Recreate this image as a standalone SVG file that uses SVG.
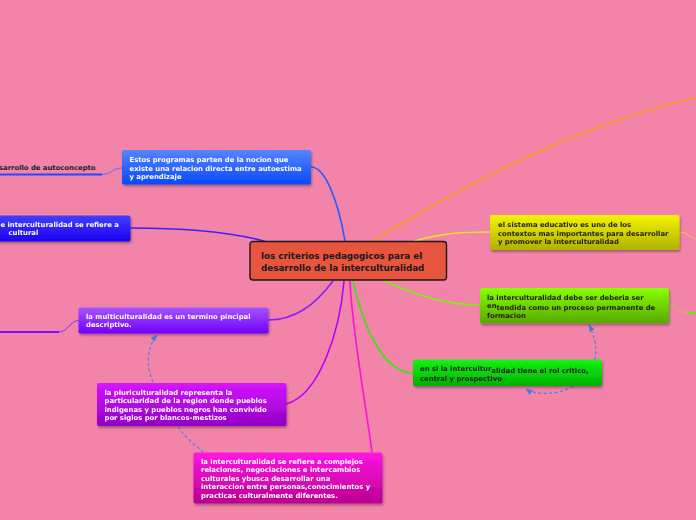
<svg xmlns="http://www.w3.org/2000/svg" width="696" height="520" viewBox="0 0 696 520">
<defs>
<linearGradient id="gBlue" x1="0" y1="0" x2="0" y2="1"><stop offset="0" stop-color="#5585ff"/><stop offset="1" stop-color="#0a48ff"/></linearGradient>
<linearGradient id="gIndigo" x1="0" y1="0" x2="0" y2="1"><stop offset="0" stop-color="#4040ff"/><stop offset="1" stop-color="#1c00f0"/></linearGradient>
<linearGradient id="gPurple" x1="0" y1="0" x2="0" y2="1"><stop offset="0" stop-color="#a455ff"/><stop offset="1" stop-color="#7000ff"/></linearGradient>
<linearGradient id="gViolet" x1="0" y1="0" x2="0" y2="1"><stop offset="0" stop-color="#d414ff"/><stop offset="1" stop-color="#9200c4"/></linearGradient>
<linearGradient id="gMagenta" x1="0" y1="0" x2="0" y2="1"><stop offset="0" stop-color="#ff14e4"/><stop offset="1" stop-color="#ba0090"/></linearGradient>
<linearGradient id="gYellow" x1="0" y1="0" x2="0" y2="1"><stop offset="0" stop-color="#f4f400"/><stop offset="1" stop-color="#b0b000"/></linearGradient>
<linearGradient id="gLime" x1="0" y1="0" x2="0" y2="1"><stop offset="0" stop-color="#88ff00"/><stop offset="1" stop-color="#5aa800"/></linearGradient>
<linearGradient id="gGreen" x1="0" y1="0" x2="0" y2="1"><stop offset="0" stop-color="#14f414"/><stop offset="1" stop-color="#00b000"/></linearGradient>
<filter id="sh" x="-10%" y="-20%" width="120%" height="150%"><feDropShadow dx="1" dy="2" stdDeviation="1.2" flood-color="#000" flood-opacity="0.3"/></filter>
<marker id="ar" viewBox="0 0 10 10" refX="9" refY="5" markerWidth="6" markerHeight="6" orient="auto-start-reverse"><path d="M0,1 L10,5 L0,9 z" fill="#4a78d8"/></marker>
</defs>
<style>
.bg{fill:#f283a9}
.node{filter:url(#sh)}
.t{font-family:"DejaVu Sans","Liberation Sans",sans-serif;font-weight:bold;font-size:6.85px}
.w{fill:#ffffff}
.d{fill:#1e1e1e}
.c{font-family:"DejaVu Sans","Liberation Sans",sans-serif;font-weight:bold;font-size:8.75px;fill:#1a1a1a}
.ln{fill:none;stroke-width:1.6;stroke-linecap:round}
.thin{fill:none;stroke-width:1}
.dash{fill:none;stroke:#4f7fdc;stroke-width:1.2;stroke-dasharray:3 2.5}
</style>
<rect class="bg" x="0" y="0" width="696" height="520"/>

<g id="connectors">
<path class="ln" d="M373,241 C440,200 570,125 696,98" stroke="#ff9a10"/>
<path class="ln" d="M311,167 C325,167 338,200 345,241" stroke="#2a5cff"/>
<path class="ln" d="M130,228 C180,228 230,232 264,241" stroke="#3a22ff"/>
<path class="ln" d="M333,281 C315,305 295,320 268,320" stroke="#8a20ff"/>
<path class="ln" d="M344,281 C340,330 320,395 286,404" stroke="#b800ff"/>
<path class="ln" d="M350,281 C352,330 365,400 372,452" stroke="#ff10d8"/>
<path class="ln" d="M415,241 C440,233 465,232 490,232" stroke="#f0e030" stroke-width="1.2"/>
<path class="ln" d="M383,280 C420,298 450,305 480,305" stroke="#80ee10"/>
<path class="ln" d="M353,281 C362,320 380,372 413,373" stroke="#44e010"/>
<path class="thin" d="M679,232 C688,232 690,238 696,239" stroke="#e8c860"/>
<path class="thin" d="M669,305 C678,305 680,313 688,313" stroke="#c8c050"/>
<path d="M688,313 L696,313" stroke="#70e020" stroke-width="2.2" fill="none"/>
<path class="thin" d="M102,174.5 C112,174.5 112,168 122,168" stroke="#5a70ff"/>
<path d="M0,174.5 L102,174.5" stroke="#2448ff" stroke-width="2.2" fill="none"/>
<path class="thin" d="M59,332 C68,332 70,320.5 79,320.5" stroke="#8a30ff"/>
<path d="M0,332 L59,332" stroke="#7a10ff" stroke-width="2.2" fill="none"/>
<path class="dash" d="M153,382 C145,365 148,345 157,335" marker-end="url(#ar)"/>
<path class="dash" d="M178,427 C185,437 195,445 203,452"/>
<path class="dash" d="M589,325 C600,345 600,375 570,388 C555,395 535,395 526,389" marker-start="url(#ar)" marker-end="url(#ar)"/>
</g>

<g id="central">
<rect x="250" y="241.5" width="196.5" height="38.5" rx="3" fill="#e8553f" stroke="#1a1a1a" stroke-width="1.4"/>
<text class="c" x="261" y="259">los criterios pedagogicos para el</text>
<text class="c" x="261" y="270.5">desarrollo de la interculturalidad</text>
</g>

<g id="n-autoconcepto">
<text class="t d" x="-1" y="169.5">sarrollo de autoconcepto</text>
</g>

<g id="n-programas" class="node">
<rect x="122" y="150" width="189" height="34.5" rx="2" fill="url(#gBlue)"/>
<text class="t w" x="129.5" y="162">Estos programas parten de la nocion que</text>
<text class="t w" x="129.5" y="170.5">existe una relacion directa entre autoestima</text>
<text class="t w" x="129.5" y="179">y aprendizaje</text>
</g>

<g id="n-intercult-left" class="node">
<rect x="-5" y="215.5" width="135.5" height="26" rx="2" fill="url(#gIndigo)"/>
<text class="t w" x="0.5" y="227">e interculturalidad se refiere a</text>
<text class="t w" x="8.5" y="235">cultural</text>
</g>

<g id="n-multi" class="node">
<rect x="78.5" y="307.5" width="190" height="26" rx="2" fill="url(#gPurple)"/>
<text class="t w" x="86" y="319">la multiculturalidad es un termino pincipal</text>
<text class="t w" x="86" y="327">descriptivo.</text>
</g>

<g id="n-pluri" class="node">
<rect x="97" y="383" width="189.5" height="43" rx="2" fill="url(#gViolet)"/>
<text class="t w" x="104.5" y="394.5">la pluriculturalidad representa la</text>
<text class="t w" x="104.5" y="403">particularidad de la region donde pueblos</text>
<text class="t w" x="104.5" y="411.5">indigenas y pueblos negros han convivido</text>
<text class="t w" x="104.5" y="420">por siglos por blancos-mestizos</text>
</g>

<g id="n-intercult-complejos" class="node">
<rect x="193.5" y="452.5" width="189" height="51" rx="2" fill="url(#gMagenta)"/>
<text class="t w" x="201" y="463.5">la interculturalidad se refiere a complejos</text>
<text class="t w" x="201" y="472">relaciones, negociaciones e intercambios</text>
<text class="t w" x="201" y="480.5">culturales ybusca desarrollar una</text>
<text class="t w" x="201" y="489">interaccion entre personas,conocimientos y</text>
<text class="t w" x="201" y="497.5">practicas culturalmente diferentes.</text>
</g>

<g id="n-sistema" class="node">
<rect x="490" y="215" width="189.5" height="35" rx="2" fill="url(#gYellow)"/>
<text class="t d" x="498" y="227">el sistema educativo es uno de los</text>
<text class="t d" x="498" y="235.5">contextos mas importantes para desarrollar</text>
<text class="t d" x="498" y="244">y promover la interculturalidad</text>
</g>

<g id="n-proceso" class="node">
<rect x="480" y="288" width="189" height="35.5" rx="2" fill="url(#gLime)"/>
<text class="t d" x="487" y="300">la interculturalidad debe ser deberia ser</text>
<text class="t d" x="487" y="307.5">en<tspan dy="2.3">tendida como un proceso permanente de</tspan></text>
<text class="t d" x="487" y="317.5">formacion</text>
</g>

<g id="n-rol" class="node">
<rect x="413" y="359.5" width="189" height="26.5" rx="2" fill="url(#gGreen)"/>
<text class="t d" x="420" y="371">en si la intercultur<tspan dy="2">alidad tiene el rol critico,</tspan></text>
<text class="t d" x="420" y="380.5">central y prospectivo</text>
</g>
</svg>
